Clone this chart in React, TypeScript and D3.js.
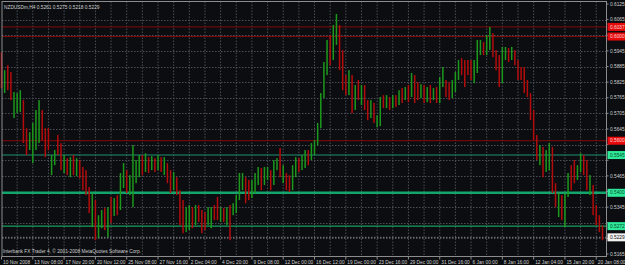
import React from 'react';
import * as d3 from 'd3';

// NZDUSDm H4 — one entry per two H4 bars, prices
const symbolTitle = 'NZDUSDm,H4';
const lastQuote = [0.5261, 0.5275, 0.5218, 0.5229];

const opens = [
  0.5925, 0.5833, 0.5864, 0.5848, 0.5710, 0.5725, 0.5756, 0.5741, 0.5625, 0.5572,
  0.5583, 0.5641, 0.5679, 0.5710, 0.5622, 0.5633, 0.5480, 0.5526, 0.5610, 0.5572,
  0.5487, 0.5518, 0.5480, 0.5526, 0.5487, 0.5518, 0.5480, 0.5433, 0.5410, 0.5288,
  0.5353, 0.5249, 0.5276, 0.5326, 0.5257, 0.5353, 0.5318, 0.5372, 0.5349, 0.5441,
  0.5480, 0.5410, 0.5372, 0.5468, 0.5480, 0.5533, 0.5495, 0.5526, 0.5499, 0.5526,
  0.5503, 0.5526, 0.5487, 0.5506, 0.5468, 0.5426, 0.5449, 0.5391, 0.5353, 0.5264,
  0.5276, 0.5334, 0.5288, 0.5341, 0.5314, 0.5303, 0.5288, 0.5288, 0.5341, 0.5372,
  0.5303, 0.5334, 0.5295, 0.5334, 0.5322, 0.5334, 0.5384, 0.5430, 0.5449, 0.5430,
  0.5391, 0.5410, 0.5449, 0.5480, 0.5437, 0.5456, 0.5480, 0.5441, 0.5495, 0.5545,
  0.5456, 0.5468, 0.5449, 0.5426, 0.5480, 0.5526, 0.5503, 0.5526, 0.5556, 0.5533,
  0.5564, 0.5595, 0.5656, 0.5771, 0.5871, 0.5979, 0.5929, 0.6018, 0.6033, 0.5902,
  0.5825, 0.5794, 0.5841, 0.5733, 0.5802, 0.5756, 0.5802, 0.5741, 0.5698, 0.5733,
  0.5664, 0.5672, 0.5764, 0.5737, 0.5760, 0.5737, 0.5768, 0.5748, 0.5787, 0.5764,
  0.5802, 0.5775, 0.5841, 0.5814, 0.5771, 0.5802, 0.5756, 0.5802, 0.5764, 0.5794,
  0.5756, 0.5814, 0.5825, 0.5810, 0.5771, 0.5802, 0.5841, 0.5902, 0.5902, 0.5902,
  0.5890, 0.5841, 0.5879, 0.5940, 0.5971, 0.5940, 0.5968, 0.6006, 0.5937, 0.5902,
  0.5841, 0.5925, 0.5948, 0.5917, 0.5940, 0.5898, 0.5871, 0.5864, 0.5817, 0.5771,
  0.5702, 0.5610, 0.5518, 0.5564, 0.5495, 0.5526, 0.5564, 0.5426, 0.5326, 0.5380,
  0.5295, 0.5399, 0.5487, 0.5514, 0.5456, 0.5495, 0.5533, 0.5506, 0.5410, 0.5410,
  0.5341, 0.5303, 0.5261,
];
const highs = [
  0.5940, 0.5871, 0.5890, 0.5864, 0.5787, 0.5783, 0.5794, 0.5756, 0.5648, 0.5633,
  0.5668, 0.5718, 0.5756, 0.5718, 0.5648, 0.5648, 0.5545, 0.5564, 0.5622, 0.5591,
  0.5545, 0.5533, 0.5537, 0.5545, 0.5533, 0.5526, 0.5499, 0.5487, 0.5422, 0.5399,
  0.5372, 0.5314, 0.5334, 0.5341, 0.5345, 0.5384, 0.5380, 0.5391, 0.5476, 0.5514,
  0.5487, 0.5468, 0.5583, 0.5526, 0.5545, 0.5545, 0.5552, 0.5537, 0.5541, 0.5533,
  0.5545, 0.5537, 0.5537, 0.5514, 0.5487, 0.5480, 0.5460, 0.5410, 0.5372, 0.5345,
  0.5353, 0.5345, 0.5353, 0.5353, 0.5334, 0.5326, 0.5345, 0.5345, 0.5353, 0.5384,
  0.5345, 0.5341, 0.5345, 0.5353, 0.5360, 0.5391, 0.5476, 0.5476, 0.5460, 0.5449,
  0.5449, 0.5476, 0.5499, 0.5495, 0.5499, 0.5499, 0.5487, 0.5526, 0.5533, 0.5572,
  0.5506, 0.5476, 0.5468, 0.5506, 0.5537, 0.5533, 0.5545, 0.5564, 0.5564, 0.5591,
  0.5602, 0.5668, 0.5783, 0.5902, 0.5987, 0.6006, 0.6044, 0.6087, 0.6044, 0.5948,
  0.5852, 0.5871, 0.5852, 0.5814, 0.5833, 0.5814, 0.5814, 0.5756, 0.5756, 0.5745,
  0.5698, 0.5768, 0.5775, 0.5775, 0.5768, 0.5775, 0.5775, 0.5794, 0.5802, 0.5806,
  0.5814, 0.5860, 0.5852, 0.5825, 0.5817, 0.5814, 0.5806, 0.5814, 0.5802, 0.5806,
  0.5844, 0.5883, 0.5833, 0.5825, 0.5833, 0.5864, 0.5910, 0.5917, 0.5910, 0.5910,
  0.5910, 0.5910, 0.5987, 0.5987, 0.5979, 0.6006, 0.6037, 0.6013, 0.5948, 0.5929,
  0.5960, 0.5960, 0.5956, 0.5960, 0.5948, 0.5910, 0.5883, 0.5883, 0.5833, 0.5783,
  0.5718, 0.5622, 0.5583, 0.5576, 0.5564, 0.5591, 0.5576, 0.5437, 0.5399, 0.5391,
  0.5399, 0.5476, 0.5506, 0.5526, 0.5506, 0.5552, 0.5545, 0.5526, 0.5468, 0.5430,
  0.5353, 0.5314, 0.5275,
];
const lows = [
  0.5802, 0.5783, 0.5794, 0.5756, 0.5687, 0.5706, 0.5710, 0.5591, 0.5545, 0.5564,
  0.5514, 0.5564, 0.5591, 0.5602, 0.5537, 0.5564, 0.5468, 0.5506, 0.5545, 0.5487,
  0.5476, 0.5468, 0.5460, 0.5468, 0.5464, 0.5456, 0.5410, 0.5391, 0.5322, 0.5268,
  0.5218, 0.5226, 0.5264, 0.5257, 0.5230, 0.5284, 0.5311, 0.5314, 0.5334, 0.5418,
  0.5399, 0.5391, 0.5345, 0.5437, 0.5460, 0.5468, 0.5480, 0.5476, 0.5487, 0.5480,
  0.5487, 0.5480, 0.5468, 0.5437, 0.5399, 0.5410, 0.5391, 0.5276, 0.5245, 0.5249,
  0.5257, 0.5264, 0.5276, 0.5288, 0.5245, 0.5257, 0.5276, 0.5264, 0.5295, 0.5295,
  0.5288, 0.5288, 0.5276, 0.5218, 0.5314, 0.5322, 0.5372, 0.5410, 0.5360, 0.5372,
  0.5380, 0.5399, 0.5430, 0.5410, 0.5430, 0.5449, 0.5410, 0.5430, 0.5487, 0.5460,
  0.5437, 0.5410, 0.5403, 0.5410, 0.5460, 0.5480, 0.5487, 0.5495, 0.5506, 0.5526,
  0.5545, 0.5583, 0.5648, 0.5764, 0.5852, 0.5890, 0.5910, 0.5968, 0.5871, 0.5794,
  0.5775, 0.5775, 0.5706, 0.5718, 0.5756, 0.5737, 0.5718, 0.5679, 0.5687, 0.5668,
  0.5652, 0.5656, 0.5725, 0.5725, 0.5718, 0.5725, 0.5729, 0.5737, 0.5745, 0.5756,
  0.5748, 0.5768, 0.5745, 0.5756, 0.5764, 0.5745, 0.5748, 0.5745, 0.5756, 0.5745,
  0.5745, 0.5806, 0.5768, 0.5756, 0.5764, 0.5787, 0.5833, 0.5852, 0.5806, 0.5852,
  0.5833, 0.5821, 0.5860, 0.5929, 0.5929, 0.5929, 0.5948, 0.5921, 0.5871, 0.5806,
  0.5821, 0.5910, 0.5902, 0.5910, 0.5890, 0.5833, 0.5833, 0.5783, 0.5768, 0.5679,
  0.5602, 0.5526, 0.5506, 0.5460, 0.5480, 0.5487, 0.5399, 0.5345, 0.5307, 0.5295,
  0.5268, 0.5384, 0.5410, 0.5437, 0.5449, 0.5480, 0.5468, 0.5410, 0.5391, 0.5314,
  0.5276, 0.5249, 0.5218,
];
const closes = [
  0.5833, 0.5864, 0.5814, 0.5764, 0.5771, 0.5775, 0.5787, 0.5610, 0.5564, 0.5610,
  0.5648, 0.5698, 0.5725, 0.5622, 0.5564, 0.5572, 0.5533, 0.5556, 0.5564, 0.5506,
  0.5526, 0.5487, 0.5526, 0.5495, 0.5518, 0.5468, 0.5426, 0.5403, 0.5341, 0.5380,
  0.5249, 0.5288, 0.5318, 0.5272, 0.5326, 0.5303, 0.5372, 0.5334, 0.5449, 0.5487,
  0.5418, 0.5449, 0.5526, 0.5506, 0.5526, 0.5487, 0.5537, 0.5495, 0.5526, 0.5495,
  0.5533, 0.5487, 0.5518, 0.5449, 0.5410, 0.5456, 0.5403, 0.5295, 0.5264, 0.5326,
  0.5334, 0.5288, 0.5334, 0.5303, 0.5264, 0.5276, 0.5326, 0.5334, 0.5311, 0.5314,
  0.5334, 0.5295, 0.5326, 0.5303, 0.5353, 0.5380, 0.5456, 0.5464, 0.5380, 0.5387,
  0.5433, 0.5460, 0.5487, 0.5426, 0.5487, 0.5487, 0.5430, 0.5514, 0.5526, 0.5480,
  0.5495, 0.5418, 0.5426, 0.5495, 0.5526, 0.5495, 0.5533, 0.5556, 0.5526, 0.5579,
  0.5591, 0.5652, 0.5768, 0.5879, 0.5968, 0.5929, 0.6025, 0.6056, 0.5890, 0.5814,
  0.5794, 0.5852, 0.5725, 0.5794, 0.5775, 0.5802, 0.5733, 0.5695, 0.5741, 0.5679,
  0.5687, 0.5756, 0.5737, 0.5764, 0.5733, 0.5768, 0.5741, 0.5783, 0.5764, 0.5794,
  0.5768, 0.5848, 0.5764, 0.5768, 0.5802, 0.5756, 0.5794, 0.5764, 0.5787, 0.5756,
  0.5833, 0.5871, 0.5779, 0.5768, 0.5817, 0.5852, 0.5894, 0.5871, 0.5825, 0.5864,
  0.5852, 0.5894, 0.5968, 0.5971, 0.5940, 0.5994, 0.6018, 0.5940, 0.5887, 0.5833,
  0.5940, 0.5948, 0.5917, 0.5948, 0.5902, 0.5852, 0.5844, 0.5802, 0.5779, 0.5698,
  0.5618, 0.5545, 0.5564, 0.5480, 0.5545, 0.5576, 0.5418, 0.5364, 0.5380, 0.5318,
  0.5387, 0.5460, 0.5430, 0.5456, 0.5495, 0.5537, 0.5487, 0.5430, 0.5449, 0.5334,
  0.5295, 0.5264, 0.5229,
];

const dateLabels = [
  '10 Nov 2008', '13 Nov 08:00', '17 Nov 20:00', '20 Nov 12:00', '25 Nov 08:00',
  '27 Nov 16:00', '2 Dec 04:00', '4 Dec 20:00', '9 Dec 08:00', '12 Dec 00:00',
  '16 Dec 12:00', '19 Dec 00:00', '23 Dec 16:00', '29 Dec 00:00', '31 Dec 16:00',
  '6 Jan 00:00', '8 Jan 16:00', '12 Jan 04:00', '15 Jan 20:00', '20 Jan 08:00',
];
const priceTicks = [
  0.6125, 0.6065, 0.6005, 0.5945, 0.5885, 0.5825, 0.5765, 0.5705, 0.5645,
  0.5585, 0.5525, 0.5465, 0.5405, 0.5345, 0.5285, 0.5225, 0.5165,
];
const redLevels = [0.6037, 0.6000, 0.5600];
const greenLevels = [0.5545, 0.5400, 0.5272];

const font = 'Liberation Sans, Arial, sans-serif';
const textColor = '#cfcfcf';

export default function App() {
  const width = 625;
  const height = 265;
  const left = 2;
  const top = 1.5;
  const right = 606.5;
  const bottom = 256.5;

  const x = d3.scaleLinear().domain([0, opens.length - 1]).range([1.5, 602.5]);
  const y = d3.scaleLinear().domain([0.5165, 0.6125]).range([254, 4]);
  const bid = closes[closes.length - 1];

  const gridX = d3.range(5, opens.length, 5).map((i) => x(i));
  const fmt = d3.format('.4f');

  // price labels hidden under the level boxes, as on the terminal
  const boxed = [...redLevels, ...greenLevels, bid];
  const freeTicks = priceTicks.filter((p) => boxed.every((b) => Math.abs(y(p) - y(b)) > 6));

  return (
    <svg
      width={width}
      height={height}
      style={{ position: 'absolute', left: 0, top: 0, display: 'block' }}
      fontFamily={font}
    >
      <rect width={width} height={height} fill="#0b0d10" />

      {/* grid */}
      <g stroke="#4a4f57" strokeWidth={1} strokeDasharray="1.5,1.5">
        {gridX.map((gx, i) => (
          <line key={'vx' + i} x1={gx} x2={gx} y1={top} y2={bottom} />
        ))}
        {priceTicks.slice(1, -1).map((p) => (
          <line key={'hy' + p} x1={left} x2={right} y1={Math.round(y(p)) + 0.5} y2={Math.round(y(p)) + 0.5} />
        ))}
      </g>

      {/* levels */}
      {redLevels.map((p) => (
        <line key={'r' + p} x1={left} x2={right} y1={y(p)} y2={y(p)} stroke="#850909" strokeWidth={1} />
      ))}
      <line x1={left} x2={right} y1={y(greenLevels[0])} y2={y(greenLevels[0])} stroke="#1f9274" strokeWidth={1.1} />
      <line x1={left} x2={right} y1={y(greenLevels[1])} y2={y(greenLevels[1])} stroke="#14a56c" strokeWidth={2.4} />
      <line x1={left} x2={right} y1={y(greenLevels[2])} y2={y(greenLevels[2])} stroke="#18a25e" strokeWidth={1.3} />

      {/* bid line */}
      <line x1={left} x2={right} y1={y(bid)} y2={y(bid)} stroke="#7d8086" strokeDasharray="1.5,1.5" />

      {/* bars */}
      <g>
        {opens.map((o, i) => {
          const up = closes[i] >= o;
          return (
            <rect
              key={i}
              x={x(i) - 0.75}
              width={1.5}
              y={y(highs[i])}
              height={Math.max(1, y(lows[i]) - y(highs[i]))}
              fill={up ? '#1c981c' : '#b30c0c'}
            />
          );
        })}
      </g>

      {/* frame */}
      <rect x={left} y={top} width={right - left} height={bottom - top} fill="none" stroke="#8c8c8c" strokeWidth={1} />

      {/* price axis */}
      {priceTicks.map((p) => (
        <line key={'pk' + p} x1={right} x2={right + 2} y1={y(p)} y2={y(p)} stroke="#8c8c8c" />
      ))}
      {freeTicks.map((p) => (
        <text key={'pt' + p} x={610} y={y(p)} dy="0.35em" fontSize={4.8} fill={textColor}>
          {fmt(p)}
        </text>
      ))}
      {redLevels.map((p) => (
        <g key={'rl' + p}>
          <rect x={607.5} y={y(p) - 4} width={17.5} height={8} fill="#e60a0a" />
          <text x={610} y={y(p)} dy="0.35em" fontSize={4.8} fill="#ffd8d8">
            {fmt(p)}
          </text>
        </g>
      ))}
      {greenLevels.map((p) => (
        <g key={'gl' + p}>
          <rect x={607.5} y={y(p) - 4} width={17.5} height={8} fill="#2ee89a" />
          <text x={610} y={y(p)} dy="0.35em" fontSize={4.8} fill="#0a4a2a">
            {fmt(p)}
          </text>
        </g>
      ))}
      <rect x={607.5} y={y(bid) - 4} width={17.5} height={8} fill="#f2f2f2" />
      <text x={610} y={y(bid)} dy="0.35em" fontSize={4.8} fill="#111">
        {fmt(bid)}
      </text>

      {/* time axis */}
      {dateLabels.map((d, k) => {
        const tx = x(k * 10);
        return (
          <g key={d}>
            <line x1={tx} x2={tx} y1={bottom} y2={bottom + 3} stroke="#8c8c8c" />
            <text x={tx + 1.5} y={263.5} fontSize={4.8} fill={textColor}>
              {d}
            </text>
          </g>
        );
      })}

      {/* header and copyright */}
      <text x={4} y={9} fontSize={4.8} fill={textColor}>
        {symbolTitle + '  ' + lastQuote.map(fmt).join(' ')}
      </text>
      <text x={3} y={253} fontSize={4.8} fill={textColor}>
        Interbank FX Trader 4, © 2001-2008 MetaQuotes Software Corp.
      </text>
    </svg>
  );
}
